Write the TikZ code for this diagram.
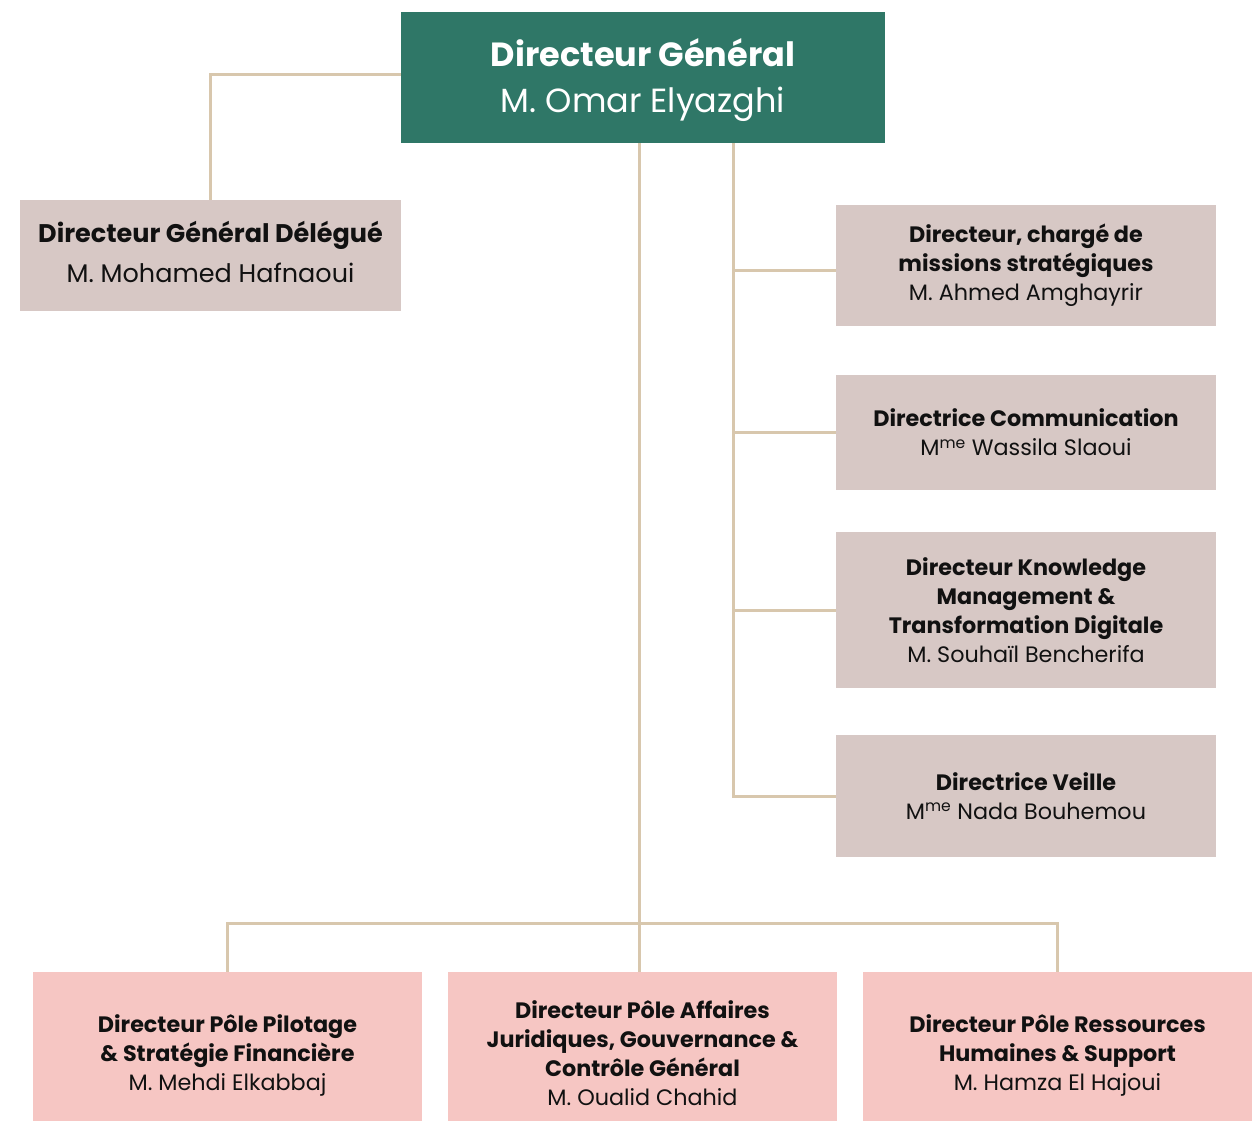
\documentclass[tikz,border=0pt]{standalone}
\usepackage{fontspec}
\setmainfont{Poppins}
\definecolor{dggreen}{HTML}{2F7767}
\definecolor{greybox}{HTML}{D7C8C5}
\definecolor{pinkbox}{HTML}{F6C6C3}
\definecolor{linec}{HTML}{D8C7AD}
\definecolor{txt}{HTML}{111111}
\begin{document}
\begin{tikzpicture}[x=1pt,y=-1pt,
  box/.style={rectangle, inner sep=0pt, align=center, text=txt, font=\fontsize{22.3}{29}\selectfont},
  greyb/.style={box, fill=greybox},
  pinkb/.style={box, fill=pinkbox},
  lbl/.style={align=center, text=txt, inner sep=0pt, font=\fontsize{22.3}{29}\selectfont},
  conn/.style={draw=linec, line width=3pt}]
\path[fill=white] (0,0) rectangle (1256,1122);
\node[box, fill=dggreen, minimum width=484pt, minimum height=131pt,
  label={[lbl, text=white, yshift=-3pt, font=\fontsize{33.5}{46}\selectfont]center:{\textbf{Directeur Général}\\M. Omar Elyazghi}}] (dg) at (643,77.5) {};
\node[greyb, minimum width=381pt, minimum height=111pt,
  label={[lbl, yshift=4pt, font=\fontsize{25.5}{40}\selectfont]center:{\textbf{Directeur Général Délégué}\\M. Mohamed Hafnaoui}}] (dgd) at (210.5,255.5) {};
\node[greyb, minimum width=380pt, minimum height=121pt] (r1) at (1026,265.5)
  {\textbf{Directeur, chargé de}\\\textbf{missions stratégiques}\\M. Ahmed Amghayrir};
\node[greyb, minimum width=380pt, minimum height=115pt] (r2) at (1026,432.5)
  {\textbf{Directrice Communication}\\M\textsuperscript{me} Wassila Slaoui};
\node[greyb, minimum width=380pt, minimum height=156pt] (r3) at (1026,610)
  {\textbf{Directeur Knowledge}\\\textbf{Management \&}\\\textbf{Transformation Digitale}\\M. Souhaïl Bencherifa};
\node[greyb, minimum width=380pt, minimum height=122pt] (r4) at (1026,796)
  {\textbf{Directrice Veille}\\M\textsuperscript{me} Nada Bouhemou};
\node[pinkb, minimum width=389pt, minimum height=149pt,
  label={[lbl, yshift=-9pt]center:{\textbf{Directeur Pôle Pilotage}\\\textbf{\& Stratégie Financière}\\M. Mehdi Elkabbaj}}] (b1) at (227.5,1046.5) {};
\node[pinkb, minimum width=389pt, minimum height=149pt,
  label={[lbl, yshift=-7pt]center:{\textbf{Directeur Pôle Affaires}\\\textbf{Juridiques, Gouvernance \&}\\\textbf{Contrôle Général}\\M. Oualid Chahid}}] (b2) at (642.5,1046.5) {};
\node[pinkb, minimum width=389pt, minimum height=149pt,
  label={[lbl, yshift=-9pt]center:{\textbf{Directeur Pôle Ressources}\\\textbf{Humaines \& Support}\\M. Hamza El Hajoui}}] (b3) at (1057.5,1046.5) {};
\coordinate (bar) at (639,923);
\coordinate (rs) at (733,143);
% connectors
\draw[conn] ([yshift=3.5pt]dg.west) -| (dgd.north);
\draw[conn] (dg.south -| bar) -- (bar);
\draw[conn] (b1.north) |- (bar) -| (b3.north);
\draw[conn] (bar) -- (bar |- b2.north);
\draw[conn] (rs) -- (rs |- r4.west) -- (r4.west);
\draw[conn] ([yshift=-5pt]r1.west) -- ([yshift=-5pt]r1.west -| rs);
\draw[conn] (r2.west) -- (r2.west -| rs);
\draw[conn] (r3.west) -- (r3.west -| rs);
\end{tikzpicture}
\end{document}
